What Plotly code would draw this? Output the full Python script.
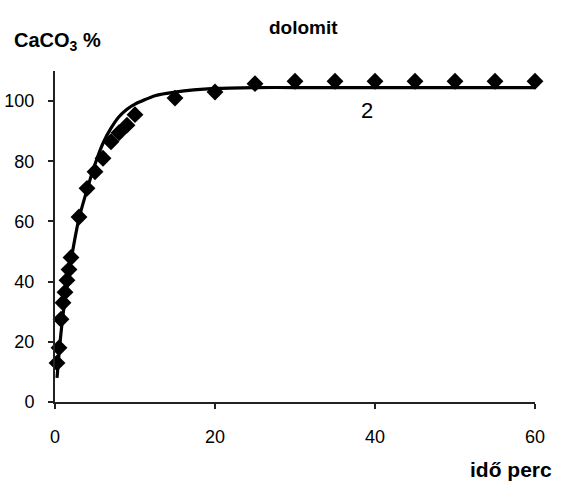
import plotly.graph_objects as go

# Measured CaCO3 conversion of dolomite over time
time_min = [0.25, 0.5, 0.75, 1.0, 1.25, 1.5, 1.75, 2.0, 3.0, 4.0, 5.0, 6.0, 7.0, 8.0, 9.0, 10.0,
            15, 20, 25, 30, 35, 40, 45, 50, 55, 60]
caco3_pct = [13, 18, 27.5, 33, 36.5, 40.5, 44, 48, 61.5, 71, 76.5, 81, 86.5, 89.5, 92, 95.5,
             101, 103, 105.8, 106.6, 106.6, 106.6, 106.6, 106.6, 106.6, 106.6]

# Fitted curve (model 2)
fit_time = [0.25, 0.5, 0.75, 1.0, 1.5, 2.0, 3.0, 4.0, 5.0, 6.0, 7.0, 8.0, 9.0, 10.0,
            12.5, 15, 20, 25, 30, 40, 50, 60]
fit_pct = [8, 16, 23, 29, 38.5, 47, 61, 70.5, 79, 86, 91, 94.8, 97.3, 99.0,
           101.8, 103, 104.2, 104.5, 104.5, 104.5, 104.5, 104.5]

x_ticks = [0, 20, 40, 60]
y_ticks = [0, 20, 40, 60, 80, 100]

FONT = "Liberation Sans, Arial, sans-serif"

fig = go.Figure()
fig.add_trace(go.Scatter(
    x=time_min, y=caco3_pct, mode="markers",
    marker=dict(symbol="diamond", size=13, color="black"),
    cliponaxis=False, showlegend=False,
))
fig.add_trace(go.Scatter(
    x=fit_time, y=fit_pct, mode="lines",
    line=dict(color="black", width=3.2, shape="spline", smoothing=0.6),
    cliponaxis=False, showlegend=False,
))

fig.update_layout(
    width=562, height=481,
    margin=dict(l=55, r=27, t=71, b=79, autoexpand=False),
    paper_bgcolor="white", plot_bgcolor="white",
    font=dict(family=FONT, size=18, color="black"),
    xaxis=dict(
        range=[0, 60], tickvals=x_ticks, showgrid=False, zeroline=False,
        showline=True, linecolor="#222", linewidth=2, automargin=False,
        ticks="outside", ticklen=5, tickwidth=2, tickcolor="#222",
        ticklabelstandoff=12,
    ),
    yaxis=dict(
        range=[0, 110], tickvals=y_ticks, showgrid=False, zeroline=False,
        showline=True, linecolor="#222", linewidth=2, automargin=False,
        ticks="outside", ticklen=5, tickwidth=2, tickcolor="#222",
        ticklabelstandoff=10,
    ),
    annotations=[
        dict(text="<b>dolomit</b>", xref="paper", yref="paper",
             x=0.517, y=1.13, showarrow=False, font=dict(size=19),
             xanchor="center", yanchor="middle"),
        dict(text="<b>CaCO<sub>3</sub> %</b>", xref="paper", yref="paper",
             x=-0.09, y=1.09, showarrow=False, font=dict(size=20),
             xanchor="left", yanchor="middle"),
        dict(text="<b>idő perc</b>", xref="paper", yref="paper",
             x=1.04, y=-0.205, showarrow=False, font=dict(size=21),
             xanchor="right", yanchor="middle"),
        dict(text="2", xref="x", yref="y", x=39, y=97, showarrow=False,
             font=dict(size=22), xanchor="center", yanchor="middle"),
    ],
)

fig.write_html("out.html")
